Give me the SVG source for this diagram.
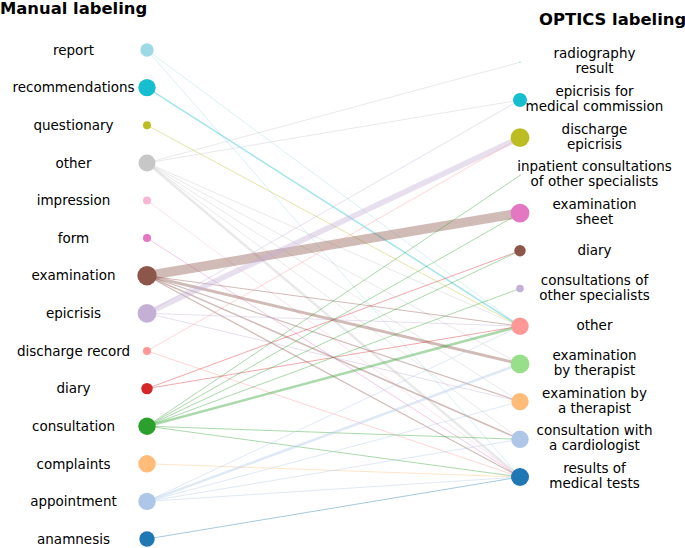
<svg xmlns="http://www.w3.org/2000/svg" width="685" height="548" viewBox="0 0 685 548">
<style>
text{font-family:"DejaVu Sans","Liberation Sans",sans-serif;font-size:13.5px;fill:#000}
.lt{text-anchor:middle}
.rt{text-anchor:middle}
.title{font-weight:bold;font-size:16.4px}
line{stroke-opacity:0.4;stroke-width:1}
.c0{stroke:#9edae5}.c1{stroke:#17becf}.c2{stroke:#bcbd22}.c3{stroke:#c7c7c7}.c4{stroke:#f7b6d2}.c5{stroke:#e377c2}.c6{stroke:#8c564b}.c7{stroke:#c5b0d5}.c8{stroke:#ff9896}.c9{stroke:#d62728}.c10{stroke:#2ca02c}.c11{stroke:#ffbb78}.c12{stroke:#aec7e8}.c13{stroke:#1f77b4}
</style>
<rect width="685" height="548" fill="#fff"/>
<text class="title" x="0" y="13.5">Manual labeling</text>
<text class="title" x="539" y="25">OPTICS labeling</text>
<g id="connectors">
<line class="c0" x1="147" y1="50" x2="520" y2="326.2"/>
<line class="c0" x1="147" y1="50" x2="520" y2="477"/>
<line class="c1" x1="147" y1="87.6" x2="520" y2="326.2" style="stroke-width:1.5"/>
<line class="c2" x1="147" y1="125.2" x2="520" y2="326.2"/>
<line class="c3" x1="147" y1="162.9" x2="520" y2="62.3"/>
<line class="c3" x1="147" y1="162.9" x2="520" y2="100"/>
<line class="c3" x1="147" y1="162.9" x2="520" y2="326.2"/>
<line class="c3" x1="147" y1="162.9" x2="520" y2="363.9"/>
<line class="c3" x1="147" y1="162.9" x2="520" y2="401.6"/>
<line class="c3" x1="147" y1="162.9" x2="520" y2="439.3"/>
<line class="c3" x1="147" y1="162.9" x2="520" y2="477" style="stroke-width:2.5"/>
<line class="c4" x1="147" y1="200.5" x2="520" y2="477"/>
<line class="c5" x1="147" y1="238.1" x2="520" y2="477"/>
<line class="c6" x1="147" y1="275.7" x2="520" y2="213.1" style="stroke-width:9.5"/>
<line class="c6" x1="147" y1="275.7" x2="520" y2="326.2"/>
<line class="c6" x1="147" y1="275.7" x2="520" y2="363.9" style="stroke-width:3"/>
<line class="c6" x1="147" y1="275.7" x2="520" y2="401.6" style="stroke-width:1.2"/>
<line class="c6" x1="147" y1="275.7" x2="520" y2="439.3" style="stroke-width:1.5"/>
<line class="c6" x1="147" y1="275.7" x2="520" y2="477" style="stroke-width:1.2"/>
<line class="c7" x1="147" y1="313.3" x2="520" y2="100"/>
<line class="c7" x1="147" y1="313.3" x2="520" y2="137.7" style="stroke-width:5.5"/>
<line class="c7" x1="147" y1="313.3" x2="520" y2="326.2"/>
<line class="c7" x1="147" y1="313.3" x2="520" y2="401.6"/>
<line class="c8" x1="147" y1="351" x2="520" y2="137.7"/>
<line class="c8" x1="147" y1="351" x2="520" y2="477"/>
<line class="c9" x1="147" y1="388.6" x2="520" y2="250.8"/>
<line class="c9" x1="147" y1="388.6" x2="520" y2="326.2"/>
<line class="c10" x1="147" y1="426.2" x2="520" y2="175.4"/>
<line class="c10" x1="147" y1="426.2" x2="520" y2="213.1"/>
<line class="c10" x1="147" y1="426.2" x2="520" y2="250.8"/>
<line class="c10" x1="147" y1="426.2" x2="520" y2="288.5"/>
<line class="c10" x1="147" y1="426.2" x2="520" y2="326.2" style="stroke-width:2.5"/>
<line class="c10" x1="147" y1="426.2" x2="520" y2="439.3"/>
<line class="c10" x1="147" y1="426.2" x2="520" y2="477"/>
<line class="c11" x1="147" y1="463.8" x2="520" y2="477"/>
<line class="c12" x1="147" y1="501.4" x2="520" y2="326.2"/>
<line class="c12" x1="147" y1="501.4" x2="520" y2="363.9" style="stroke-width:2.5"/>
<line class="c12" x1="147" y1="501.4" x2="520" y2="401.6"/>
<line class="c12" x1="147" y1="501.4" x2="520" y2="439.3"/>
<line class="c12" x1="147" y1="501.4" x2="520" y2="477"/>
<line class="c13" x1="147" y1="539" x2="520" y2="477"/>
</g>
<g id="L-report"><circle cx="147" cy="50" r="6.7" fill="#9edae5"/><text class="lt" x="73.5" y="54.7">report</text></g>
<g id="L-recommendations"><circle cx="147" cy="87.6" r="8.7" fill="#17becf"/><text class="lt" x="73.5" y="92.3">recommendations</text></g>
<g id="L-questionary"><circle cx="147" cy="125.2" r="4" fill="#bcbd22"/><text class="lt" x="73.5" y="129.9">questionary</text></g>
<g id="L-other"><circle cx="147" cy="162.9" r="8.5" fill="#c7c7c7"/><text class="lt" x="73.5" y="167.6">other</text></g>
<g id="L-impression"><circle cx="147" cy="200.5" r="4" fill="#f7b6d2"/><text class="lt" x="73.5" y="205.2">impression</text></g>
<g id="L-form"><circle cx="147" cy="238.1" r="4" fill="#e377c2"/><text class="lt" x="73.5" y="242.8">form</text></g>
<g id="L-examination"><circle cx="147" cy="275.7" r="9.7" fill="#8c564b"/><text class="lt" x="73.5" y="280.4">examination</text></g>
<g id="L-epicrisis"><circle cx="147" cy="313.3" r="9.4" fill="#c5b0d5"/><text class="lt" x="73.5" y="318">epicrisis</text></g>
<g id="L-discharge-record"><circle cx="147" cy="351" r="4" fill="#ff9896"/><text class="lt" x="73.5" y="355.7">discharge record</text></g>
<g id="L-diary"><circle cx="147" cy="388.6" r="5.7" fill="#d62728"/><text class="lt" x="73.5" y="393.3">diary</text></g>
<g id="L-consultation"><circle cx="147" cy="426.2" r="8.7" fill="#2ca02c"/><text class="lt" x="73.5" y="430.9">consultation</text></g>
<g id="L-complaints"><circle cx="147" cy="463.8" r="8.7" fill="#ffbb78"/><text class="lt" x="73.5" y="468.5">complaints</text></g>
<g id="L-appointment"><circle cx="147" cy="501.4" r="8.7" fill="#aec7e8"/><text class="lt" x="73.5" y="506.1">appointment</text></g>
<g id="L-anamnesis"><circle cx="147" cy="539" r="7.7" fill="#1f77b4"/><text class="lt" x="73.5" y="543.7">anamnesis</text></g>
<g id="R-radiography-result"><circle cx="520" cy="62.3" r="0.8" fill="#9edae5"/><text class="rt" x="594.5" y="58.3">radiography</text><text class="rt" x="594.5" y="73.3">result</text></g>
<g id="R-epicrisis-medical-commission"><circle cx="520" cy="100" r="7" fill="#17becf"/><text class="rt" x="594.5" y="96">epicrisis for</text><text class="rt" x="594.5" y="111">medical commission</text></g>
<g id="R-discharge-epicrisis"><circle cx="520" cy="137.7" r="9.4" fill="#bcbd22"/><text class="rt" x="594.5" y="133.7">discharge</text><text class="rt" x="594.5" y="148.7">epicrisis</text></g>
<g id="R-inpatient-consultations"><circle cx="520" cy="175.4" r="0.8" fill="#c7c7c7"/><text class="rt" x="594.5" y="171.4">inpatient consultations</text><text class="rt" x="594.5" y="186.4">of other specialists</text></g>
<g id="R-examination-sheet"><circle cx="520" cy="213.1" r="9.4" fill="#e377c2"/><text class="rt" x="594.5" y="209.1">examination</text><text class="rt" x="594.5" y="224.1">sheet</text></g>
<g id="R-diary"><circle cx="520" cy="250.8" r="5.7" fill="#8c564b"/><text class="rt" x="594.5" y="255">diary</text></g>
<g id="R-consultations-other-specialists"><circle cx="520" cy="288.5" r="3.8" fill="#c5b0d5"/><text class="rt" x="594.5" y="284.5">consultations of</text><text class="rt" x="594.5" y="299.5">other specialists</text></g>
<g id="R-other"><circle cx="520" cy="326.2" r="8.7" fill="#ff9896"/><text class="rt" x="594.5" y="330.4">other</text></g>
<g id="R-examination-by-therapist"><circle cx="520" cy="363.9" r="9.4" fill="#98df8a"/><text class="rt" x="594.5" y="359.9">examination</text><text class="rt" x="594.5" y="374.9">by therapist</text></g>
<g id="R-examination-by-a-therapist"><circle cx="520" cy="401.6" r="8.7" fill="#ffbb78"/><text class="rt" x="594.5" y="397.6">examination by</text><text class="rt" x="594.5" y="412.6">a therapist</text></g>
<g id="R-consultation-cardiologist"><circle cx="520" cy="439.3" r="8.7" fill="#aec7e8"/><text class="rt" x="594.5" y="435.3">consultation with</text><text class="rt" x="594.5" y="450.3">a cardiologist</text></g>
<g id="R-results-medical-tests"><circle cx="520" cy="477" r="9" fill="#1f77b4"/><text class="rt" x="594.5" y="473">results of</text><text class="rt" x="594.5" y="488">medical tests</text></g>
</svg>
